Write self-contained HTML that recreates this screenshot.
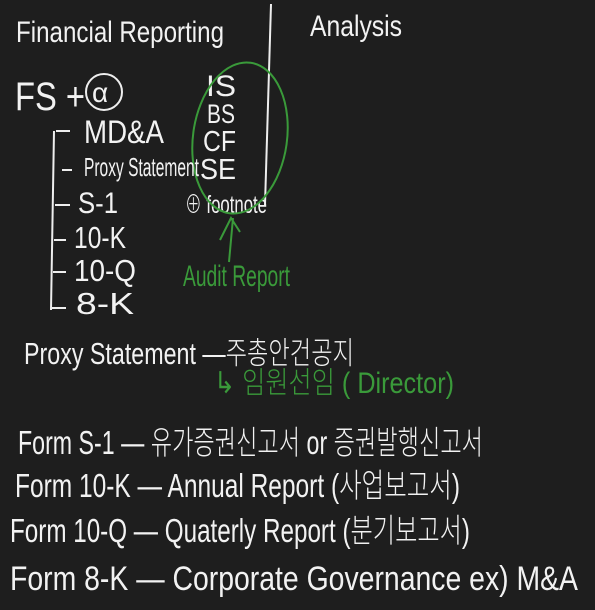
<!DOCTYPE html>
<html><head><meta charset="utf-8"><style>
html,body{margin:0;padding:0;background:#1e1e1e;}
svg{display:block;}
text{font-family:"Liberation Sans Narrow","Liberation Sans","Noto Sans CJK KR",sans-serif;fill:#f2f2f2;font-weight:300;}
.g{fill:#3a9a3a;}
</style></head><body>
<svg width="595" height="610" viewBox="0 0 595 610">
<rect width="595" height="610" fill="#1e1e1e"/>
<text x="16" y="42" font-size="30" textLength="208" lengthAdjust="spacingAndGlyphs">Financial Reporting</text>
<line x1="271" y1="4" x2="265" y2="205" stroke="#eee" stroke-width="2"/>
<text x="310" y="36" font-size="30" textLength="92" lengthAdjust="spacingAndGlyphs">Analysis</text>
<text x="15" y="110" font-size="40" textLength="70" lengthAdjust="spacingAndGlyphs">FS +</text>
<circle cx="104" cy="92" r="18" fill="none" stroke="#eee" stroke-width="2"/>
<text x="92" y="102" font-size="28">α</text>
<text x="206" y="96" font-size="30" textLength="30" lengthAdjust="spacingAndGlyphs">IS</text>
<text x="207" y="123" font-size="27" textLength="28" lengthAdjust="spacingAndGlyphs">BS</text>
<text x="203" y="151" font-size="29" textLength="33" lengthAdjust="spacingAndGlyphs">CF</text>
<text x="200" y="179" font-size="29" textLength="36" lengthAdjust="spacingAndGlyphs">SE</text>
<text x="185" y="213" font-size="25" textLength="82" lengthAdjust="spacingAndGlyphs">⊕ footnote</text>
<ellipse cx="240" cy="138" rx="47" ry="76" transform="rotate(8 240 138)" fill="none" stroke="#3a9a3a" stroke-width="2"/>
<path d="M229 262 L233 218 M220 240 L231 218 L240 232" fill="none" stroke="#3a9a3a" stroke-width="2"/>
<text class="g" x="183" y="286" font-size="30" textLength="107" lengthAdjust="spacingAndGlyphs">Audit Report</text>
<path d="M54 131 L51 310 M56 131 L70 131 M62 170 L72 170 M55 205 L70 205 M54 240 L66 240 M53 272 L66 272 M51 308 L66 308" fill="none" stroke="#eee" stroke-width="2"/>
<text x="84" y="143" font-size="32" textLength="80" lengthAdjust="spacingAndGlyphs">MD&amp;A</text>
<text x="84" y="176" font-size="26" textLength="115" lengthAdjust="spacingAndGlyphs">Proxy Statement</text>
<text x="78" y="213" font-size="30" textLength="40" lengthAdjust="spacingAndGlyphs">S-1</text>
<text x="74" y="248" font-size="31" textLength="52" lengthAdjust="spacingAndGlyphs">10-K</text>
<text x="74" y="281" font-size="31" textLength="62" lengthAdjust="spacingAndGlyphs">10-Q</text>
<text x="76" y="314" font-size="31" textLength="58" lengthAdjust="spacingAndGlyphs">8-K</text>
<text x="24" y="364" font-size="31" textLength="330" lengthAdjust="spacingAndGlyphs">Proxy Statement —주총안건공지</text>
<text class="g" x="214" y="393" font-size="30" textLength="240" lengthAdjust="spacingAndGlyphs">↳ 임원선임 ( Director)</text>
<text x="18" y="454" font-size="33" textLength="465" lengthAdjust="spacingAndGlyphs">Form S-1 — 유가증권신고서 or 증권발행신고서</text>
<text x="15" y="497" font-size="33" textLength="445" lengthAdjust="spacingAndGlyphs">Form 10-K — Annual Report (사업보고서)</text>
<text x="10" y="542" font-size="33" textLength="460" lengthAdjust="spacingAndGlyphs">Form 10-Q — Quaterly Report (분기보고서)</text>
<text x="10" y="590" font-size="34" textLength="568" lengthAdjust="spacingAndGlyphs">Form 8-K — Corporate Governance  ex) M&amp;A</text>
</svg>
</body></html>
